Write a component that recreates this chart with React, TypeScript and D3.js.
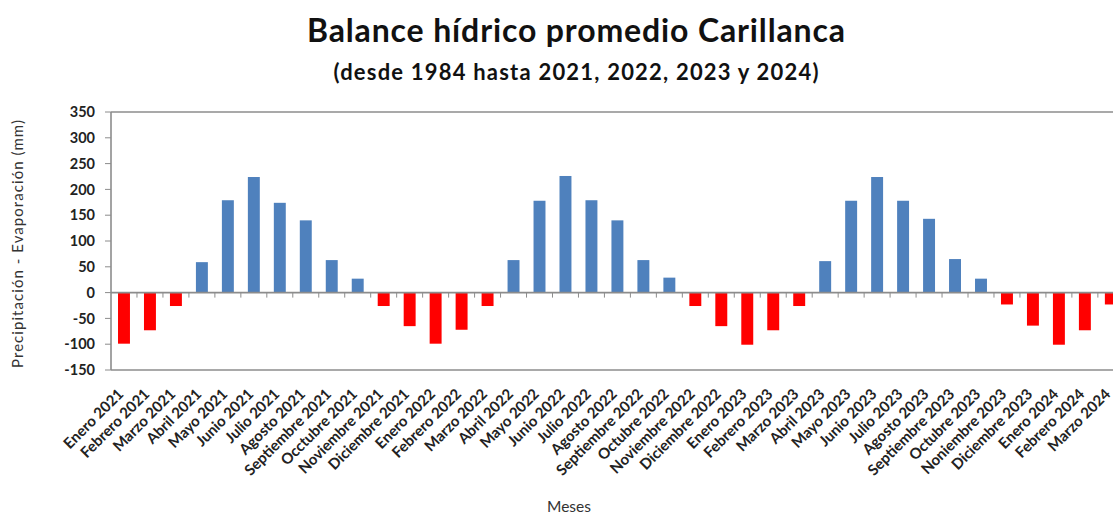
import React from "react";
import * as d3 from "d3";

// Monthly categories (labels kept as written in the source spreadsheet)
const months: string[] = [
  "Enero 2021", "Febrero 2021", "Marzo 2021", "Abril 2021", "Mayo 2021", "Junio 2021",
  "Julio 2021", "Agosto 2021", "Septiembre 2021", "Occtubre 2021", "Noviembre 2021", "Diciembre 2021",
  "Enero 2022", "Febrero 2022", "Marzo 2022", "Abril 2022", "Mayo 2022", "Junio 2022",
  "Julio 2022", "Agosto 2022", "Septiembre 2022", "Octubre 2022", "Noviembre 2022", "Diciembre 2022",
  "Enero 2023", "Febrero 2023", "Marzo 2023", "Abril 2023", "Mayo 2023", "Junio 2023",
  "Julio 2023", "Agosto 2023", "Septiembre 2023", "Octubre 2023", "Noniembre 2023", "Diciembre 2023",
  "Enero 2024", "Febrero 2024", "Marzo 2024",
];

// Precipitation minus evaporation (mm)
const balance2021: number[] = [-99, -73, -26, 59, 179, 224, 174, 140, 63, 27, -26, -65];
const balance2022: number[] = [-99, -72, -26, 63, 178, 226, 179, 140, 63, 29, -26, -65];
const balance2023: number[] = [-101, -73, -26, 61, 178, 224, 178, 143, 65, 27, -23, -64];
const balance2024: number[] = [-101, -73, -23];

const yTicks: number[] = [-150, -100, -50, 0, 50, 100, 150, 200, 250, 300, 350];

const values = [...balance2021, ...balance2022, ...balance2023, ...balance2024];
const data = months.map((m, i) => ({ month: m, value: values[i] }));

const W = 1113;
const H = 514;
const left = 111;
const step = 25.97;
const top = 112;
const bottom = 370;
const FONT = "Lato, 'Open Sans', sans-serif";
const AXIS = "#8c8c8c";

export default function App() {
  const x = d3
    .scaleBand<string>()
    .domain(months)
    .range([left, left + step * months.length])
    .padding(0);
  const y = d3.scaleLinear().domain([-150, 350]).range([bottom, top]);
  const barW = x.bandwidth() * 0.46;
  const y0 = y(0);

  return (
    <svg
      width={W}
      height={H}
      style={{ position: "absolute", left: 0, top: 0, background: "#fff" }}
      fontFamily={FONT}
    >
      <rect x={0} y={0} width={W} height={H} fill="#fff" />

      {/* titles */}
      <text
        x={576}
        y={42}
        textAnchor="middle"
        fontSize={32}
        fontWeight={700}
        fill="#111"
        textLength={538}
        lengthAdjust="spacing"
      >
        Balance hídrico promedio Carillanca
      </text>
      <text
        x={576}
        y={80}
        textAnchor="middle"
        fontSize={22}
        fontWeight={700}
        fill="#111"
        textLength={485}
        lengthAdjust="spacing"
      >
        (desde 1984 hasta 2021, 2022, 2023 y 2024)
      </text>

      {/* plot frame */}
      <line x1={left} x2={W + 20} y1={top} y2={top} stroke={AXIS} strokeWidth={1.6} />
      <line x1={left} x2={W + 20} y1={bottom} y2={bottom} stroke={AXIS} strokeWidth={1.6} />

      {/* bars */}
      {data.map((d) => {
        const cx = (x(d.month) as number) + x.bandwidth() / 2;
        const yv = y(d.value);
        return (
          <rect
            key={d.month}
            x={cx - barW / 2}
            y={Math.min(yv, y0)}
            width={barW}
            height={Math.abs(yv - y0)}
            fill={d.value >= 0 ? "#4f81bd" : "#ff0000"}
          />
        );
      })}

      {/* zero line with category ticks */}
      <line x1={left} x2={W + 20} y1={y0} y2={y0} stroke={AXIS} strokeWidth={1.6} />
      {months.map((m, i) =>
        i === 0 ? null : (
          <line
            key={"t" + m}
            x1={x(m) as number}
            x2={x(m) as number}
            y1={y0}
            y2={y0 + 5}
            stroke={AXIS}
            strokeWidth={1}
          />
        )
      )}

      {/* value axis */}
      <line x1={left} x2={left} y1={top} y2={bottom} stroke={AXIS} strokeWidth={1.6} />
      {yTicks.map((t) => (
        <g key={"y" + t}>
          <line x1={left - 6} x2={left} y1={y(t)} y2={y(t)} stroke={AXIS} strokeWidth={1} />
          <text
            x={95}
            y={y(t)}
            dy="0.36em"
            textAnchor="end"
            fontSize={14.5}
            fontWeight={700}
            fill="#222"
          >
            {t}
          </text>
        </g>
      ))}

      {/* category labels */}
      {months.map((m) => {
        const cx = (x(m) as number) + x.bandwidth() / 2;
        return (
          <text
            key={"l" + m}
            transform={`translate(${cx + 0.5},${395}) rotate(-45)`}
            textAnchor="end"
            fontSize={15}
            fontWeight={700}
            fill="#222"
          >
            {m}
          </text>
        );
      })}

      {/* axis titles */}
      <text
        transform={`translate(23,244) rotate(-90)`}
        textAnchor="middle"
        fontSize={15}
        fill="#333"
        textLength={248}
        lengthAdjust="spacing"
      >
        Precipitación - Evaporación (mm)
      </text>
      <text x={569} y={512} textAnchor="middle" fontSize={15.5} fill="#333">
        Meses
      </text>
    </svg>
  );
}
